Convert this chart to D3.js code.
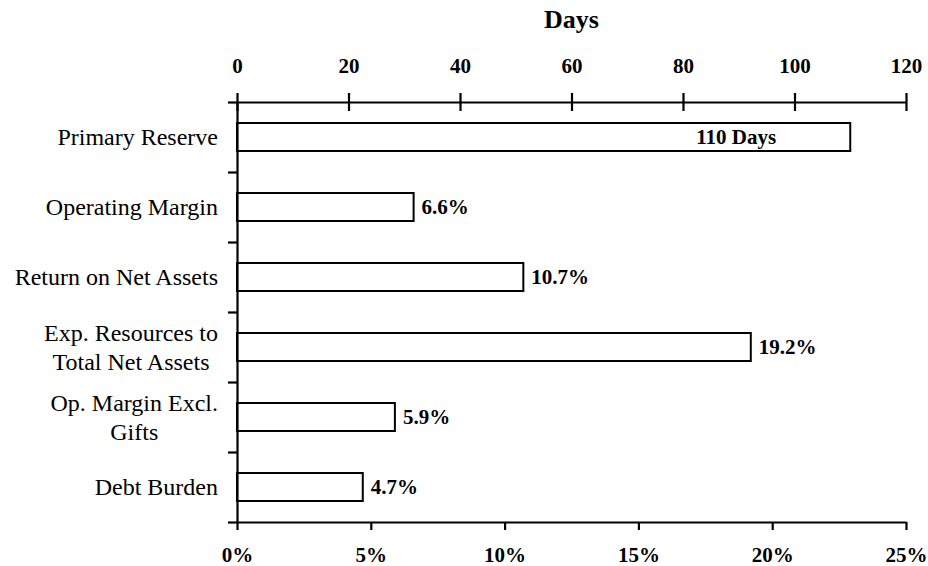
<!DOCTYPE html>
<html>
<head>
<meta charset="utf-8">
<script src="https://cdn.jsdelivr.net/npm/d3@7"></script>
<style>
  html, body { margin: 0; padding: 0; background: #fff; }
  svg { display: block; font-family: "Liberation Serif", "Times New Roman", serif; }
</style>
</head>
<body>
<svg id="chart" width="928" height="566"></svg>
<script>
// Financial ratios: the first row is measured in days (top axis), the rest in percent (bottom axis)
const categories = [
  ["Primary Reserve"],
  ["Operating Margin"],
  ["Return on Net Assets"],
  ["Exp. Resources to", "Total Net Assets"],
  ["Op. Margin Excl.", "Gifts"],
  ["Debt Burden"]
];
const values = [110, 6.6, 10.7, 19.2, 5.9, 4.7];
const units = ["days", "pct", "pct", "pct", "pct", "pct"];
const dayTicks = [0, 20, 40, 60, 80, 100, 120];
const pctTicks = [0, 5, 10, 15, 20, 25];

const width = 928, height = 566;
const margin = { top: 102, right: 22, bottom: 44, left: 237 };
const x0 = margin.left, x1 = width - margin.right;
const y0 = margin.top, y1 = height - margin.bottom;

const svg = d3.select("#chart");

const xDays = d3.scaleLinear().domain([0, 120]).range([x0, x1]);
const xPct = d3.scaleLinear().domain([0, 25]).range([x0, x1]);
const y = d3.scaleBand().domain(d3.range(categories.length)).range([y0, y1])
  .paddingInner(0.6).paddingOuter(0.3);
const yEdges = d3.scaleLinear().domain([0, categories.length]).range([y0, y1]);

const xFor = i => units[i] === "days" ? xDays : xPct;
const fmt = i => units[i] === "days" ? `${values[i]} Days` : `${values[i]}%`;

// Bars
svg.append("g").selectAll("rect").data(values).join("rect")
  .attr("x", (d, i) => xFor(i)(0))
  .attr("y", (d, i) => y(i))
  .attr("width", (d, i) => xFor(i)(d) - xFor(i)(0))
  .attr("height", y.bandwidth())
  .attr("fill", "#fff")
  .attr("stroke", "#000")
  .attr("stroke-width", 2);

// Value labels
svg.append("g").selectAll("text").data(values).join("text")
  .attr("x", (d, i) => units[i] === "days" ? xFor(i)(d) - 114 : xFor(i)(d) + 8)
  .attr("y", (d, i) => y(i) + y.bandwidth() / 2)
  .attr("dy", "0.35em")
  .attr("text-anchor", (d, i) => units[i] === "days" ? "middle" : "start")
  .attr("font-size", 21)
  .attr("font-weight", "bold")
  .text((d, i) => fmt(i));

// Left axis: boundary ticks between categories
const leftAxis = svg.append("g")
  .attr("transform", `translate(${x0},0)`)
  .call(d3.axisLeft(yEdges).tickValues(d3.range(categories.length + 1))
    .tickSize(9).tickSizeOuter(0).tickFormat(""));

// Category labels, multi-line labels centred within their block
const labelRight = 218;
const lineH = 29;
const catG = svg.append("g").attr("font-size", 24);
categories.forEach((lines, i) => {
  const cy = y(i) + y.bandwidth() / 2;
  const t = catG.append("text").attr("text-anchor", "middle");
  lines.forEach((ln, k) => {
    t.append("tspan")
      .attr("y", cy + (k - (lines.length - 1) / 2) * lineH)
      .attr("dy", "0.35em")
      .text(ln);
  });
  let maxW = 0;
  t.selectAll("tspan").each(function () { maxW = Math.max(maxW, this.getComputedTextLength()); });
  t.selectAll("tspan").attr("x", labelRight - maxW / 2);
});

// Top axis (days), ticks crossing the line
const topAxis = svg.append("g")
  .attr("transform", `translate(0,${y0})`)
  .call(d3.axisTop(xDays).tickValues(dayTicks).tickSize(9).tickSizeOuter(0).tickPadding(20));
topAxis.selectAll(".tick line").attr("y2", -9).attr("y1", 9);

// Bottom axis (percent)
const botAxis = svg.append("g")
  .attr("transform", `translate(0,${y1})`)
  .call(d3.axisBottom(xPct).tickValues(pctTicks).tickSize(8).tickSizeOuter(0)
    .tickPadding(17).tickFormat(d => d + "%"));

[leftAxis, topAxis, botAxis].forEach(g => {
  g.selectAll(".domain").attr("stroke", "#000").attr("stroke-width", 2.2);
  g.selectAll(".tick line").attr("stroke", "#000").attr("stroke-width", 2.2);
  g.selectAll(".tick text")
    .attr("font-family", "Liberation Serif, Times New Roman, serif")
    .attr("font-size", 21).attr("font-weight", "bold").attr("fill", "#000");
});

// Axis title
svg.append("text")
  .attr("x", (x0 + x1) / 2)
  .attr("y", 28)
  .attr("text-anchor", "middle")
  .attr("font-size", 26)
  .attr("font-weight", "bold")
  .text("Days");
</script>
</body>
</html>
